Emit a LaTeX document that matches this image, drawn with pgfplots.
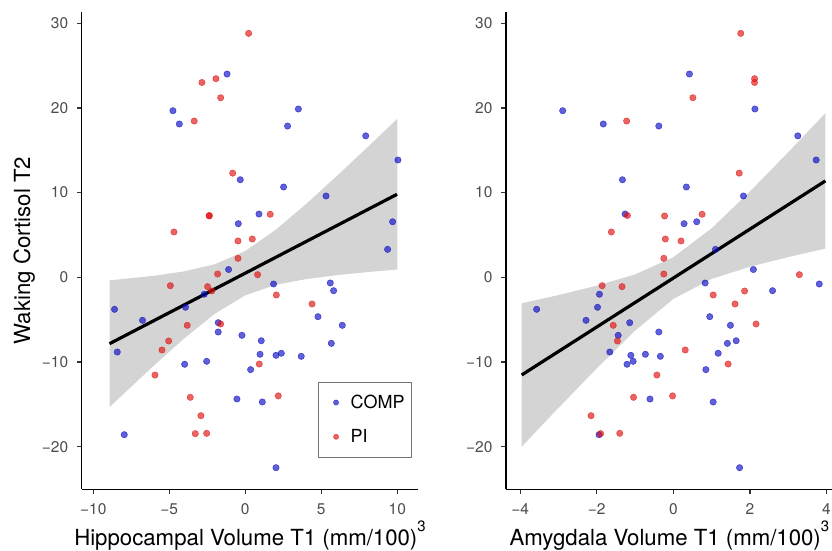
\documentclass[border=0pt]{standalone}
\usepackage{pgfplots}
\pgfplotsset{compat=1.18}
\usepackage{pgfplotstable}
\usepackage{fontspec}
\setmainfont{TeX Gyre Heros}
\definecolor{compblue}{RGB}{10,10,195}
\definecolor{pired}{RGB}{224,17,17}
\definecolor{tickgray}{HTML}{4D4D4D}
\definecolor{bandgray}{RGB}{212,212,212}

% COMP: hippocampal x, amygdala x, cortisol y
\pgfplotstableread{
hx ax y
-1.2 0.42 24.0
-4.76 -2.89 19.67
3.49 2.13 19.87
-4.34 -1.83 18.1
2.78 -0.38 17.86
7.92 3.25 16.7
10.04 3.73 13.85
-0.33 -1.33 11.52
2.52 0.34 10.66
5.31 1.83 9.6
0.9 -1.26 7.47
-0.46 0.28 6.33
9.69 0.61 6.56
9.36 1.1 3.3
-1.1 2.09 0.92
1.86 3.81 -0.79
5.59 0.83 -0.67
5.81 2.59 -1.58
-2.7 -1.93 -2.0
-8.6 -3.57 -3.78
-3.93 -1.98 -3.54
-6.76 -2.28 -5.08
4.78 0.95 -4.65
-1.78 -1.14 -5.36
6.38 1.49 -5.67
-1.78 -0.38 -6.46
-0.22 -1.44 -6.85
1.05 1.64 -7.49
5.66 1.41 -7.8
-8.42 -1.66 -8.82
2.37 1.17 -8.97
0.97 -0.73 -9.09
2.02 -1.11 -9.21
3.68 -0.34 -9.33
-2.54 -1.05 -9.92
-3.99 -1.21 -10.27
0.35 0.85 -10.9
-0.55 -0.61 -14.37
1.12 1.04 -14.72
-7.96 -1.94 -18.58
2.02 1.73 -22.48
}\comptable

% PI: hippocampal x, amygdala x, cortisol y
\pgfplotstableread{
hx ax y
0.22 1.76 28.8
-1.93 2.12 23.45
-2.85 2.12 23.0
-1.62 0.51 21.2
-3.36 -1.22 18.45
-0.83 1.72 12.3
1.64 0.75 7.44
-2.37 -1.2 7.3
-2.37 -0.23 7.24
-4.69 -1.62 5.35
0.46 -0.21 4.52
-0.48 0.2 4.29
-0.48 -0.25 2.24
-1.82 -0.25 0.39
0.81 3.29 0.31
-4.93 -1.86 -0.99
-2.48 -1.34 -1.1
-2.2 1.86 -1.62
2.04 1.04 -2.09
4.39 1.61 -3.15
-3.82 -1.57 -5.67
-1.62 2.16 -5.51
-5.04 -1.46 -7.52
-5.48 0.31 -8.58
0.92 1.43 -10.24
-5.94 -0.43 -11.54
-3.62 -1.04 -14.17
2.17 -0.02 -14.0
-2.92 -2.15 -16.34
-3.29 -1.9 -18.46
-2.54 -1.4 -18.42
}\pitable

\pgfplotsset{
  panel/.style={
    scale only axis,
    height=477.6pt,
    ymin=-25.03, ymax=31.36,
    axis lines*=left,
    axis line style={-, line width=1.5pt, black},
    tick align=outside,
    major tick length=5pt,
    tick style={line width=1.2pt, black!80},
    ytick={-20,-10,0,10,20,30},
    yticklabels={−20,−10,0,10,20,30},
    ticklabel style={font=\fontsize{15.5}{18}\selectfont, text=tickgray},
    xticklabel style={yshift=-6pt},
    yticklabel style={xshift=-5pt},
    label style={font=\fontsize{22.2}{26}\selectfont, text=black},
    xlabel style={at={(axis description cs:0.5,0)}, anchor=base, yshift=-55.7pt},
    clip=true,
  },
  comp/.style={only marks, mark=*, mark size=3.2pt, color=compblue, mark options={fill opacity=0.65, draw opacity=0.65, line width=0.5pt}},
  pi/.style={only marks, mark=*, mark size=3.2pt, color=pired, mark options={fill opacity=0.65, draw opacity=0.65, line width=0.5pt}},
  dotlegend/.style={legend image code/.code={%
      \draw[##1, mark size=2.6pt] plot coordinates {(12.4pt,0pt)};
      \path[draw=none] (0pt,0pt) -- (25pt,0pt);}},
}

\newcommand{\cube}{\raisebox{0.62em}{\fontsize{15}{15}\selectfont 3}}

\begin{document}
\begin{tikzpicture}
\useasboundingbox (0,0) rectangle (832pt,551pt);

\begin{axis}[panel,
  at={(81.7pt,61.7pt)}, anchor=south west,
  width=336.6pt,
  xmin=-10.76, xmax=11.38,
  xtick={-10,-5,0,5,10},
  xticklabels={−10,−5,0,5,10},
  xlabel={Hippocampal Volume T1 (mm/100)\cube},
  ylabel={Waking Cortisol T2},
  ylabel style={at={(axis description cs:-0.171,0.5)}, anchor=center, rotate=0},
  legend style={at={(0.703,0.2253)}, anchor=north west, draw=black!55, line width=0.7pt,
    font=\fontsize{18}{21}\selectfont, inner xsep=5pt, inner ysep=11pt, row sep=15.5pt,
    nodes={inner sep=2pt}},
  legend cell align=left,
]
\addplot[fill=bandgray, draw=none, forget plot] coordinates {
(-8.93,-0.36) (-6,0.18) (-4,0.71) (-2,1.54) (0,3.11) (2,5.61) (4,8.65) (6,11.93) (8,15.29) (10,18.72)
(10,0.92) (8,0.61) (6,0.25) (4,-0.21) (2,-0.89) (0,-2.13) (-2,-4.30) (-4,-7.19) (-6,-10.40) (-8.93,-15.32)
};
\addplot[black, line width=3.2pt, forget plot] coordinates {(-8.93,-7.84) (9.98,9.8)};
\addplot[comp, dotlegend] table[x=hx, y=y] {\comptable};
\addlegendentry{COMP}
\addplot[pi, dotlegend] table[x=hx, y=y] {\pitable};
\addlegendentry{PI}
\end{axis}

\begin{axis}[panel,
  at={(506pt,61.7pt)}, anchor=south west,
  width=334.7pt,
  xmin=-4.37, xmax=4.37,
  xtick={-4,-2,0,2,4},
  xticklabels={−4,−2,0,2,4},
  xlabel={Amygdala Volume T1 (mm/100)\cube},
  xlabel style={xshift=-4pt},
]
\addplot[fill=bandgray, draw=none] coordinates {
(-3.96,-3.07) (-3,-2.10) (-2,-0.99) (-1,0.34) (0,2.37) (1,5.79) (2,10.13) (3,14.77) (3.97,19.37)
(3.97,3.39) (3,2.39) (2,1.25) (1,-0.19) (0,-2.55) (-1,-6.30) (-2,-10.75) (-3,-15.42) (-3.96,-19.99)
};
\addplot[black, line width=3.2pt] coordinates {(-3.96,-11.53) (3.97,11.38)};
\addplot[comp] table[x=ax, y=y] {\comptable};
\addplot[pi] table[x=ax, y=y] {\pitable};
\end{axis}
\end{tikzpicture}
\end{document}
